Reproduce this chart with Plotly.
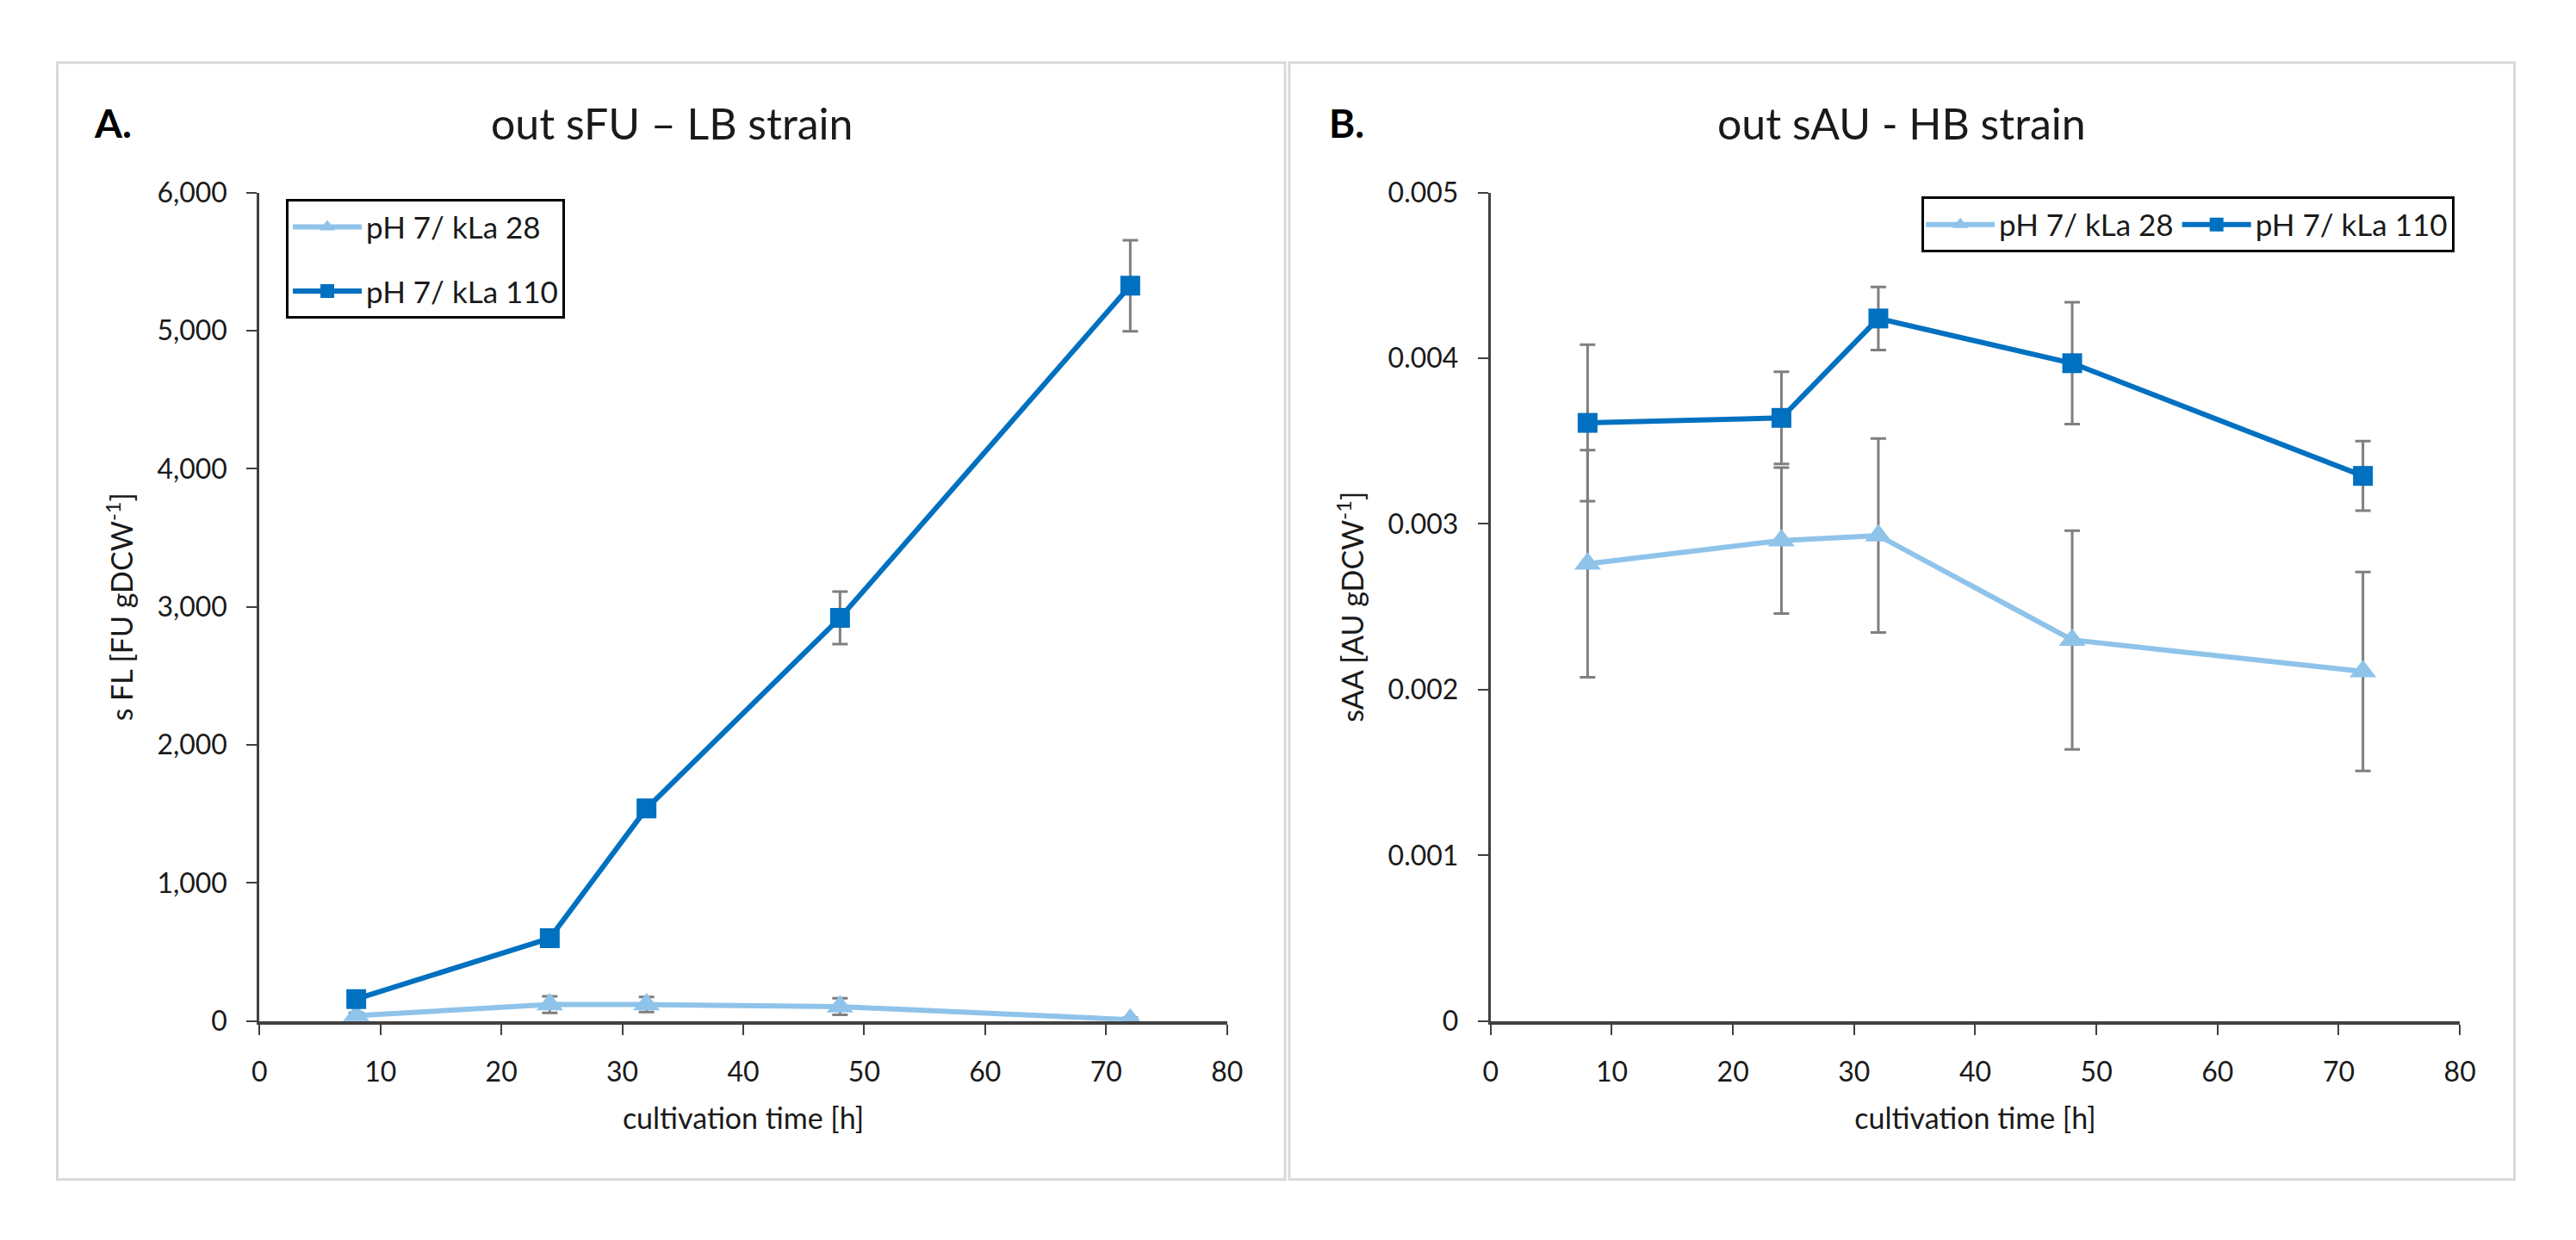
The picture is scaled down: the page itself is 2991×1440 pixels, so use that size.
import plotly.graph_objects as go

W, H = 2991, 1440

# ---------------- data ----------------
time_h = [8, 24, 32, 48, 72]
series_names = ["pH 7/ kLa 28", "pH 7/ kLa 110"]

a_kla28 = [40, 120, 120, 105, 10]
a_kla28_err = [20, 60, 55, 60, 15]
a_kla110 = [160, 600, 1540, 2920, 5325]
a_kla110_err = [40, 45, 60, 190, 330]

b_kla28 = [0.00276, 0.00290, 0.00293, 0.00230, 0.00211]
b_kla28_err = [0.000685, 0.00044, 0.000585, 0.00066, 0.0006]
b_kla110 = [0.00361, 0.00364, 0.00424, 0.00397, 0.00329]
b_kla110_err = [0.000472, 0.000278, 0.00019, 0.000368, 0.00021]

x_ticks = [0, 10, 20, 30, 40, 50, 60, 70, 80]
a_yticks = [0, 1000, 2000, 3000, 4000, 5000, 6000]
a_yticklabels = ["0", "1,000", "2,000", "3,000", "4,000", "5,000", "6,000"]
b_yticks = [0, 0.001, 0.002, 0.003, 0.004, 0.005]
b_yticklabels = ["0", "0.001", "0.002", "0.003", "0.004", "0.005"]

titles = ["out sFU \u2013 LB strain", "out sAU - HB strain"]
panel_labels = ["A.", "B."]
x_title = "cultivation time [h]"
y_titles = ["s FL [FU gDCW<sup>-1</sup>]", "sAA [AU gDCW<sup>-1</sup>]"]

# ---------------- style ----------------
FONT = "Lato"
LIGHT = "#8FC3EA"
DARK = "#0070C0"
ERRC = "#7F7F7F"
TXT = "#1A1A1A"

def px_x(p):
    return p / W

def px_y(p):
    return 1 - p / H

fig = go.Figure()

def add_series(x, y, err, name, color, symbol, size, xa, ya, legend, group):
    fig.add_trace(go.Scatter(
        x=x, y=y, name=name, mode="lines+markers",
        xaxis=xa, yaxis=ya, legend=legend, legendgroup=group,
        line=dict(color=color, width=6),
        marker=dict(color=color, symbol=symbol, size=size),
        error_y=dict(type="data", array=err, visible=True, color=ERRC,
                     thickness=3, width=9),
    ))

add_series(time_h, a_kla28, a_kla28_err, series_names[0], LIGHT, "triangle-up", 27, "x", "y", "legend", "a1")
add_series(time_h, a_kla110, a_kla110_err, series_names[1], DARK, "square", 23, "x", "y", "legend", "a2")
add_series(time_h, b_kla28, b_kla28_err, series_names[0], LIGHT, "triangle-up", 27, "x2", "y2", "legend2", "b1")
add_series(time_h, b_kla110, b_kla110_err, series_names[1], DARK, "square", 23, "x2", "y2", "legend2", "b2")

common_x = dict(range=[0, 80], tickvals=x_ticks, ticks="outside", ticklen=12, tickwidth=2,
                tickcolor="#404040", showline=True, linecolor="#404040", linewidth=4,
                showgrid=False, zeroline=False, tickfont=dict(size=32, color=TXT, family=FONT),
                ticklabelstandoff=16, automargin=True,
                title=dict(text=x_title, font=dict(size=34, color=TXT, family=FONT), standoff=26))
common_y = dict(ticks="outside", ticklen=12, tickwidth=2, tickcolor="#404040",
                showline=True, linecolor="#404040", linewidth=3, showgrid=False, zeroline=False,
                tickfont=dict(size=32, color=TXT, family=FONT), ticklabelstandoff=16, automargin=True)

fig.update_layout(
    width=W, height=H,
    margin=dict(l=0, r=0, t=0, b=0),
    paper_bgcolor="white", plot_bgcolor="white",
    font=dict(family=FONT, color=TXT),
    xaxis=dict(domain=[px_x(287), px_x(1421)], anchor="y", **common_x),
    xaxis2=dict(domain=[px_x(1730), px_x(2866)], anchor="y2", **common_x),
    yaxis=dict(domain=[px_y(1189), px_y(200)], anchor="x", range=[0, 6000],
               tickvals=a_yticks, ticktext=a_yticklabels,
               title=dict(text=y_titles[0], font=dict(size=34, color=TXT, family=FONT), standoff=18),
               **common_y),
    yaxis2=dict(domain=[px_y(1189), px_y(200)], anchor="x2", range=[0, 0.005],
                tickvals=b_yticks, ticktext=b_yticklabels,
                title=dict(text=y_titles[1], font=dict(size=34, color=TXT, family=FONT), standoff=18),
                **common_y),
    legend=dict(x=px_x(318), y=px_y(208), xanchor="left", yanchor="top",
                bordercolor="#000000", borderwidth=3, bgcolor="white",
                font=dict(size=35, color=TXT, family=FONT), itemwidth=80,
                traceorder="grouped", tracegroupgap=26, orientation="v"),
    legend2=dict(x=px_x(2235), y=px_y(205), xanchor="left", yanchor="top",
                 bordercolor="#000000", borderwidth=3, bgcolor="white",
                 font=dict(size=35, color=TXT, family=FONT), itemwidth=80,
                 orientation="h"),
    showlegend=True,
)

# panel frames
for x0, x1 in [(50, 1489), (1494, 2930)]:
    fig.add_shape(type="rect", xref="paper", yref="paper",
                  x0=px_x(x0), x1=px_x(x1), y0=px_y(1378), y1=px_y(45),
                  line=dict(color="#D9D9D9", width=3), layer="below")

# panel labels and titles
for lx, tx, lab, ttl in [(91, 770, panel_labels[0], titles[0]), (1538, 2212, panel_labels[1], titles[1])]:
    fig.add_annotation(x=px_x(lx), y=px_y(117), xref="paper", yref="paper",
                       text="<b>" + lab + "</b>", showarrow=False, xanchor="left", yanchor="middle",
                       font=dict(size=46, color="#000000", family=FONT))
    fig.add_annotation(x=px_x(tx), y=px_y(117), xref="paper", yref="paper",
                       text=ttl, showarrow=False, xanchor="center", yanchor="middle",
                       font=dict(size=50, color=TXT, family=FONT))

fig.write_html("out.html")
